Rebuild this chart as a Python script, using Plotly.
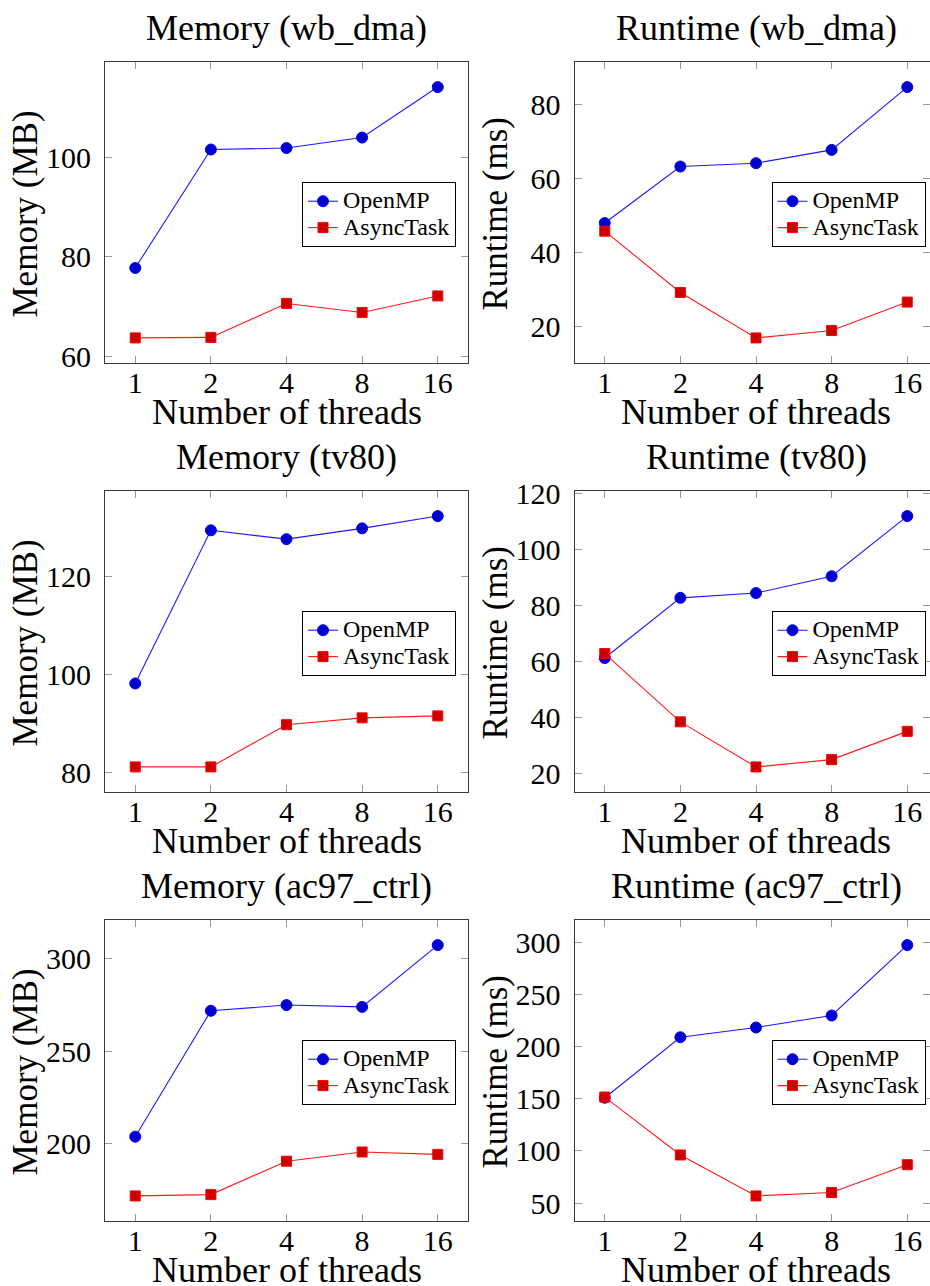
import plotly.graph_objects as go

# Thread counts on the x axis
threads = ["1", "2", "4", "8", "16"]

# Peak memory (MB)
mem_wb_dma_openmp = [77.8, 101.5, 101.8, 103.9, 114.0]
mem_wb_dma_async = [63.8, 63.9, 70.7, 68.9, 72.2]
mem_tv80_openmp = [98.2, 129.4, 127.6, 129.8, 132.3]
mem_tv80_async = [81.2, 81.2, 89.8, 91.2, 91.6]
mem_ac97_openmp = [203.6, 271.8, 274.9, 273.9, 307.4]
mem_ac97_async = [171.5, 172.2, 190.3, 195.3, 194.0]

# Runtime (ms)
rt_wb_dma_openmp = [48.0, 63.3, 64.2, 67.8, 84.8]
rt_wb_dma_async = [45.8, 29.2, 16.9, 18.9, 26.6]
rt_tv80_openmp = [61.4, 82.9, 84.6, 90.6, 112.1]
rt_tv80_async = [63.0, 38.6, 22.5, 25.1, 35.2]
rt_ac97_openmp = [151.0, 208.9, 218.2, 229.7, 297.1]
rt_ac97_async = [151.6, 96.2, 57.0, 60.2, 86.9]

# Y tick values per panel
yticks_mem_wb_dma = [60, 80, 100]
yticks_rt_wb_dma = [20, 40, 60, 80]
yticks_mem_tv80 = [80, 100, 120]
yticks_rt_tv80 = [20, 40, 60, 80, 100, 120]
yticks_mem_ac97 = [200, 250, 300]
yticks_rt_ac97 = [50, 100, 150, 200, 250, 300]

panels = [
    ("Memory (wb_dma)", "Memory (MB)", mem_wb_dma_openmp, mem_wb_dma_async, yticks_mem_wb_dma),
    ("Runtime (wb_dma)", "Runtime (ms)", rt_wb_dma_openmp, rt_wb_dma_async, yticks_rt_wb_dma),
    ("Memory (tv80)", "Memory (MB)", mem_tv80_openmp, mem_tv80_async, yticks_mem_tv80),
    ("Runtime (tv80)", "Runtime (ms)", rt_tv80_openmp, rt_tv80_async, yticks_rt_tv80),
    ("Memory (ac97_ctrl)", "Memory (MB)", mem_ac97_openmp, mem_ac97_async, yticks_mem_ac97),
    ("Runtime (ac97_ctrl)", "Runtime (ms)", rt_ac97_openmp, rt_ac97_async, yticks_rt_ac97),
]
x_title = "Number of threads"

W, H = 930, 1286
FONT = "Liberation Serif"
FRAME_W, FRAME_H = 363, 301
col_left = [105, 574.5]
ytitle_x = [25, 495]
row_top = [62, 491, 920]


def legend_label(text):
    return f'<span style="font-size:24px">{text}</span>'


fig = go.Figure()
layout = dict(
    width=W, height=H,
    margin=dict(l=0, r=0, t=0, b=0, autoexpand=False),
    paper_bgcolor="white", plot_bgcolor="white",
    font=dict(family=FONT, color="black"),
    showlegend=True,
)
annotations = []

for i, (title, ytitle, openmp, asyn, yticks) in enumerate(panels):
    r, c = divmod(i, 2)
    n = i + 1
    xa = "x" if n == 1 else f"x{n}"
    ya = "y" if n == 1 else f"y{n}"
    leg = "legend" if n == 1 else f"legend{n}"

    left = col_left[c]
    right_nominal = left + FRAME_W
    right = min(right_nominal, W)
    top = row_top[r]
    bottom = top + FRAME_H
    centre_x = (left + FRAME_W / 2) / W

    # pgfplots-style 10% enlargement of the data limits
    lo = min(openmp + asyn)
    hi = max(openmp + asyn)
    pad = 0.1 * (hi - lo)
    x_hi = -0.4 + 4.8 * (right - left) / FRAME_W

    fig.add_trace(go.Scatter(
        x=threads, y=openmp, name=legend_label("OpenMP"), mode="lines+markers",
        xaxis=xa, yaxis=ya, legend=leg,
        line=dict(color="#1a1aff", width=1.1),
        marker=dict(symbol="circle", size=11, color="#0000cc",
                    line=dict(color="#0000ff", width=1)),
    ))
    fig.add_trace(go.Scatter(
        x=threads, y=asyn, name=legend_label("AsyncTask"), mode="lines+markers",
        xaxis=xa, yaxis=ya, legend=leg,
        line=dict(color="#ff1a1a", width=1.1),
        marker=dict(symbol="square", size=10, color="#cc0000",
                    line=dict(color="#ff0000", width=1)),
    ))

    axis_common = dict(
        showline=True, linecolor="#3a3a3a", linewidth=1.2, mirror="ticks",
        ticks="inside", ticklen=7, tickwidth=1, tickcolor="#9a9a9a",
        showgrid=False, zeroline=False, automargin=False,
        tickfont=dict(family=FONT, size=30, color="black"),
    )
    layout["xaxis" if n == 1 else f"xaxis{n}"] = dict(
        axis_common,
        type="category", categoryorder="array", categoryarray=threads,
        range=[-0.4, x_hi],
        domain=[left / W, right / W],
        anchor=ya,
        ticklabelstandoff=-7,
    )
    layout["yaxis" if n == 1 else f"yaxis{n}"] = dict(
        axis_common,
        range=[lo - pad, hi + pad],
        tickmode="array", tickvals=yticks,
        domain=[1 - bottom / H, 1 - top / H],
        anchor=xa,
        ticklabelstandoff=7,
    )
    layout[leg] = dict(
        x=min((right_nominal - 12) / W, 1.0),
        xanchor="right",
        y=1 - (top + 120) / H, yanchor="top",
        bgcolor="white", bordercolor="black", borderwidth=1,
        font=dict(family=FONT, size=18, color="black"),
        tracegroupgap=0,
    )
    # panel title above the frame
    annotations.append(dict(
        text=title, xref="paper", yref="paper",
        x=centre_x, y=1 - (top - 34) / H,
        xanchor="center", yanchor="middle", showarrow=False,
        font=dict(family=FONT, size=36, color="black"),
    ))
    # x-axis title below the tick labels
    annotations.append(dict(
        text=x_title, xref="paper", yref="paper",
        x=centre_x, y=1 - (bottom + 49) / H,
        xanchor="center", yanchor="middle", showarrow=False,
        font=dict(family=FONT, size=36, color="black"),
    ))
    # rotated y-axis title left of the tick labels
    annotations.append(dict(
        text=ytitle, xref="paper", yref="paper",
        x=ytitle_x[c] / W, y=1 - (top + FRAME_H / 2 + 2) / H,
        xanchor="center", yanchor="middle", showarrow=False, textangle=-90,
        font=dict(family=FONT, size=35, color="black"),
    ))

layout["annotations"] = annotations
fig.update_layout(**layout)
fig.write_html("out.html")
